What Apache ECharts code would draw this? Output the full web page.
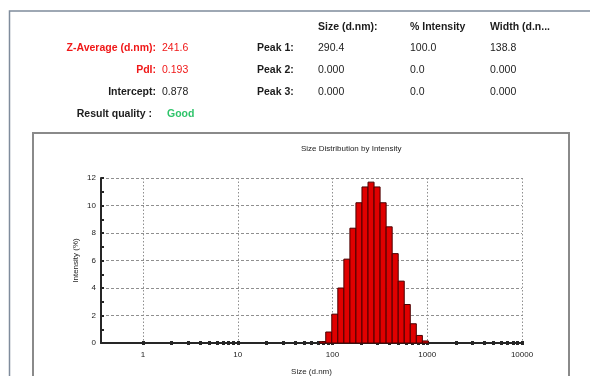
<!DOCTYPE html>
<html>
<head>
<meta charset="utf-8">
<title>Size Distribution by Intensity</title>
<script src="https://cdn.jsdelivr.net/npm/echarts@6/dist/echarts.min.js"></script>
<style>
  html, body { margin: 0; padding: 0; background: #ffffff; }
  #chart { width: 590px; height: 376px; }
</style>
</head>
<body>
<div id="chart"></div>
<script>
// Bin centre sizes (d.nm) and the intensity (%) measured in each bin
const binSizes = [78.82, 91.28, 105.7, 122.4, 141.8, 164.2, 190.1, 220.2, 255.0,
                  295.3, 342.0, 396.1, 458.7, 531.2, 615.1, 712.4, 825.0, 955.4];
const intensity = [0.1, 0.8, 2.1, 4.0, 6.1, 8.35, 10.2, 11.35, 11.7,
                   11.35, 10.2, 8.45, 6.5, 4.5, 2.8, 1.4, 0.55, 0.15];

// Axis ticks
const xLabelValues = [1, 10, 100, 1000, 10000];
const xTickValues = [1, 2, 3, 4, 5, 6, 7, 8, 9,
                     10, 20, 30, 40, 50, 60, 70, 80, 90,
                     100, 200, 300, 400, 500, 600, 700, 800, 900,
                     1000, 2000, 3000, 4000, 5000, 6000, 7000, 8000, 9000, 10000];
const xRange = [0.36, 10000];
const yRange = [0, 12];

// Result summary
const summaryLabels = ['Z-Average (d.nm):', 'PdI:', 'Intercept:'];
const summaryValues = ['241.6', '0.193', '0.878'];
const resultQuality = 'Good';
const peakNames = ['Peak 1:', 'Peak 2:', 'Peak 3:'];
const peakColumns = ['Size (d.nm):', '% Intensity', 'Width (d.n...'];
const peakSize = ['290.4', '0.000', '0.000'];
const peakPercent = ['100.0', '0.0', '0.0'];
const peakWidth = ['138.8', '0.000', '0.000'];

// Each bar spans from the geometric midpoint with its neighbours (log-spaced bins)
const binRatio = binSizes[1] / binSizes[0];
const barData = binSizes.map(function (s, i) {
  const prev = i > 0 ? binSizes[i - 1] : s / binRatio;
  const next = i < binSizes.length - 1 ? binSizes[i + 1] : s * binRatio;
  return [Math.sqrt(prev * s), Math.sqrt(s * next), intensity[i]];
});

const FONT = 'Liberation Sans, Arial, sans-serif';
const RED = '#f01818';
const DARK = '#1c1c1c';

function txt(x, y, text, opts) {
  opts = opts || {};
  return {
    type: 'text', x: x, y: y, silent: true,
    style: {
      text: text,
      fill: opts.fill || DARK,
      font: (opts.bold ? 'bold ' : '') + (opts.size || 10.5) + 'px ' + FONT,
      align: opts.align || 'left',
      verticalAlign: 'middle'
    }
  };
}

const rowY = [48.5, 70, 92];
const graphics = [
  // page and chart frames
  { type: 'rect', silent: true, shape: { x: 9.5, y: 11, width: 600, height: 400 },
    style: { fill: 'none', stroke: '#7f8c9c', lineWidth: 1.5 } },
  { type: 'rect', silent: true, shape: { x: 33, y: 133, width: 536, height: 300 },
    style: { fill: 'none', stroke: '#8a8a8a', lineWidth: 2 } },
  txt(301, 149, 'Size Distribution by Intensity', { size: 8 })
];
summaryLabels.forEach(function (label, i) {
  const color = i < 2 ? RED : DARK;
  graphics.push(txt(156, rowY[i], label, { bold: true, align: 'right', fill: color }));
  graphics.push(txt(162, rowY[i], summaryValues[i], { fill: color }));
});
graphics.push(txt(152, 114.5, 'Result quality :', { bold: true, align: 'right' }));
graphics.push(txt(167, 114.5, resultQuality, { bold: true, fill: '#2fc46a' }));
const colX = [318, 410, 490];
peakColumns.forEach(function (c, j) {
  graphics.push(txt(colX[j], 27, c, { bold: true }));
});
peakNames.forEach(function (p, i) {
  graphics.push(txt(257, rowY[i], p, { bold: true }));
  graphics.push(txt(colX[0], rowY[i], peakSize[i]));
  graphics.push(txt(colX[1], rowY[i], peakPercent[i]));
  graphics.push(txt(colX[2], rowY[i], peakWidth[i]));
});

const chart = echarts.init(document.getElementById('chart'), null, { renderer: 'canvas' });
chart.setOption({
  animation: false,
  backgroundColor: '#ffffff',
  textStyle: { fontFamily: FONT },
  graphic: graphics,
  grid: { left: 101, right: 68, top: 178, bottom: 33, containLabel: false, outerBoundsMode: 'none' },
  xAxis: [
    {
      type: 'log', logBase: 10, min: xRange[0], max: xRange[1], position: 'bottom',
      name: 'Size (d.nm)', nameLocation: 'middle', nameGap: 25, nameMoveOverlap: false,
      nameTextStyle: { fontSize: 8, color: DARK },
      axisLine: { onZero: false, lineStyle: { color: '#262626', width: 2 } },
      axisTick: { show: false, customValues: xLabelValues },
      axisLabel: {
        customValues: xLabelValues, fontSize: 8, color: DARK, margin: 8,
        formatter: function (v) { return String(Math.round(v)); }
      },
      splitLine: { show: true, lineStyle: { color: '#8f8f8f', type: [1.5, 2], width: 1 } }
    },
    {
      // decade and sub-decade tick marks along the size axis
      type: 'log', logBase: 10, min: xRange[0], max: xRange[1], position: 'bottom', offset: -2,
      axisLine: { show: false, onZero: false },
      axisTick: { show: true, customValues: xTickValues, length: 4, lineStyle: { color: '#262626', width: 3 } },
      axisLabel: { show: false },
      splitLine: { show: false }
    }
  ],
  yAxis: {
    type: 'value', min: yRange[0], max: yRange[1], interval: 2,
    name: 'Intensity (%)', nameLocation: 'middle', nameGap: 21, nameRotate: 90, nameMoveOverlap: false,
    nameTextStyle: { fontSize: 8, color: DARK },
    axisLine: { show: true, lineStyle: { color: '#262626', width: 2 } },
    axisTick: { show: true, inside: true, length: 3, lineStyle: { color: '#262626', width: 2 } },
    minorTick: { show: true, splitNumber: 2, length: 3, lineStyle: { color: '#262626', width: 2 } },
    axisLabel: { fontSize: 8, color: DARK, margin: 5 },
    splitLine: { show: true, lineStyle: { color: '#8f8f8f', type: [3, 2], width: 1 } }
  },
  series: [{
    type: 'custom',
    xAxisIndex: 0,
    encode: { x: [0, 1], y: 2 },
    data: barData,
    renderItem: function (params, api) {
      const topLeft = api.coord([api.value(0), api.value(2)]);
      const bottomRight = api.coord([api.value(1), 0]);
      return {
        type: 'rect',
        shape: {
          x: topLeft[0], y: topLeft[1],
          width: bottomRight[0] - topLeft[0],
          height: bottomRight[1] - topLeft[1]
        },
        style: { fill: '#e00000', stroke: '#4a0000', lineWidth: 1 }
      };
    }
  }]
});
</script>
</body>
</html>
